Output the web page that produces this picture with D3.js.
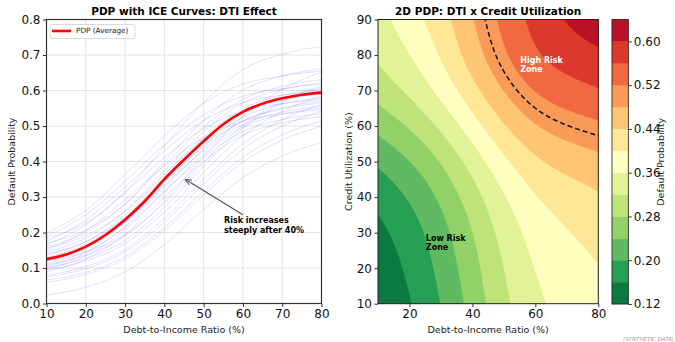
<!DOCTYPE html>
<html>
<head>
<meta charset="utf-8">
<script src="https://cdn.jsdelivr.net/npm/d3@7"></script>
<style>
  body { margin: 0; background: #fff; }
  svg { display: block; font-family: "DejaVu Sans", sans-serif; }
</style>
</head>
<body>
<div id="chart"></div>
<script>
/**
 * CONSTANTS
 * */
const width = 675, height = 342;

/**
 * DATA
 * */
// left panel: x positions of the ICE samples
const dtiTicks = [10, 20, 30, 40, 50, 60, 70, 80];
const probTicks = [0, 0.1, 0.2, 0.3, 0.4, 0.5, 0.6, 0.7, 0.8];

// PDP (average) curve
const pdpX = [10, 15, 20, 25, 30, 35, 40, 45, 50, 55, 60, 65, 70, 75, 80];
const pdpY = [0.125, 0.138, 0.160, 0.193, 0.236, 0.288, 0.350, 0.405, 0.457, 0.505, 0.540, 0.563, 0.578, 0.588, 0.594];

// ICE curves, one row per observation, values at dtiTicks
const iceCurves = [
  [0.198, 0.262, 0.363, 0.472, 0.564, 0.618, 0.641, 0.655],
  [0.190, 0.250, 0.344, 0.447, 0.532, 0.584, 0.605, 0.618],
  [0.184, 0.227, 0.314, 0.443, 0.567, 0.659, 0.702, 0.724],
  [0.175, 0.235, 0.328, 0.430, 0.515, 0.566, 0.587, 0.600],
  [0.170, 0.207, 0.280, 0.391, 0.497, 0.575, 0.612, 0.630],
  [0.165, 0.222, 0.313, 0.411, 0.493, 0.542, 0.563, 0.575],
  [0.160, 0.200, 0.280, 0.400, 0.516, 0.601, 0.641, 0.661],
  [0.156, 0.191, 0.260, 0.364, 0.464, 0.538, 0.573, 0.590],
  [0.150, 0.205, 0.293, 0.388, 0.467, 0.514, 0.534, 0.546],
  [0.146, 0.184, 0.260, 0.374, 0.484, 0.565, 0.603, 0.622],
  [0.140, 0.174, 0.242, 0.344, 0.442, 0.514, 0.548, 0.565],
  [0.137, 0.174, 0.249, 0.362, 0.469, 0.549, 0.586, 0.605],
  [0.130, 0.167, 0.242, 0.355, 0.462, 0.542, 0.579, 0.598],
  [0.126, 0.160, 0.229, 0.332, 0.431, 0.504, 0.539, 0.556],
  [0.120, 0.145, 0.194, 0.283, 0.397, 0.500, 0.570, 0.614],
  [0.118, 0.155, 0.229, 0.340, 0.446, 0.525, 0.562, 0.580],
  [0.112, 0.146, 0.214, 0.315, 0.412, 0.484, 0.518, 0.535],
  [0.109, 0.136, 0.190, 0.288, 0.413, 0.527, 0.603, 0.652],
  [0.105, 0.142, 0.217, 0.328, 0.435, 0.514, 0.551, 0.570],
  [0.102, 0.127, 0.178, 0.270, 0.386, 0.493, 0.564, 0.610],
  [0.098, 0.134, 0.207, 0.315, 0.420, 0.497, 0.533, 0.551],
  [0.095, 0.120, 0.169, 0.257, 0.369, 0.472, 0.541, 0.585],
  [0.090, 0.125, 0.195, 0.299, 0.400, 0.474, 0.509, 0.526],
  [0.080, 0.104, 0.152, 0.239, 0.349, 0.450, 0.518, 0.561],
  [0.075, 0.098, 0.145, 0.229, 0.337, 0.435, 0.500, 0.542],
  [0.066, 0.088, 0.133, 0.214, 0.317, 0.412, 0.475, 0.515],
  [0.060, 0.082, 0.126, 0.205, 0.306, 0.399, 0.460, 0.500],
  [0.024, 0.046, 0.089, 0.166, 0.265, 0.355, 0.415, 0.454]
];

// right panel: 2D PDP grid, rows = credit utilization, cols = DTI
const gridDti = [10, 20, 30, 40, 50, 60, 70, 80];
const gridCu = [10, 20, 30, 40, 50, 60, 70, 80, 90];
const gridPd = [
  [0.125, 0.155, 0.199, 0.255, 0.312, 0.354, 0.374, 0.390],
  [0.135, 0.165, 0.209, 0.265, 0.322, 0.364, 0.384, 0.397],
  [0.148, 0.178, 0.222, 0.278, 0.335, 0.377, 0.397, 0.413],
  [0.170, 0.200, 0.244, 0.300, 0.357, 0.399, 0.419, 0.433],
  [0.205, 0.235, 0.279, 0.335, 0.392, 0.434, 0.454, 0.467],
  [0.252, 0.282, 0.326, 0.382, 0.439, 0.481, 0.500, 0.512],
  [0.298, 0.328, 0.372, 0.428, 0.485, 0.527, 0.546, 0.559],
  [0.328, 0.358, 0.404, 0.462, 0.519, 0.561, 0.580, 0.593],
  [0.345, 0.382, 0.421, 0.478, 0.533, 0.573, 0.604, 0.625]
];
const levels = [0.12, 0.16, 0.20, 0.24, 0.28, 0.32, 0.36, 0.40, 0.44, 0.48, 0.52, 0.56, 0.60, 0.64];
const cbarTicks = [0.12, 0.20, 0.28, 0.36, 0.44, 0.52, 0.60];
const rightXTicks = [20, 40, 60, 80];
const rightYTicks = [10, 20, 30, 40, 50, 60, 70, 80, 90];

// RdYlGn colorbrewer stops (matplotlib), reversed for RdYlGn_r
const rdylgn = ["#a50026", "#d73027", "#f46d43", "#fdae61", "#fee08b", "#ffffbf",
  "#d9ef8b", "#a6d96a", "#66bd63", "#1a9850", "#006837"];
const cmap = d3.piecewise(d3.interpolateRgb, rdylgn.slice().reverse());

/**
 * SVG
 * */
const svg = d3.select("#chart").append("svg")
  .attr("width", width)
  .attr("height", height);
const defs = svg.append("defs");

function styleAxis(g) {
  g.select(".domain").remove();
  g.selectAll(".tick line").attr("stroke", "#333");
  g.selectAll(".tick text").attr("font-size", 12).attr("fill", "#111")
    .attr("font-family", "DejaVu Sans, sans-serif");
}

/**
 * LEFT PANEL: PDP + ICE
 * */
const L = { left: 46.5, right: 321.5, top: 19.5, bottom: 303.5 };
const xL = d3.scaleLinear().domain([10, 80]).range([L.left, L.right]);
const yL = d3.scaleLinear().domain([0, 0.8]).range([L.bottom, L.top]);

// grid
svg.append("g").selectAll("line").data(dtiTicks).join("line")
  .attr("x1", d => xL(d)).attr("x2", d => xL(d))
  .attr("y1", L.top).attr("y2", L.bottom)
  .attr("stroke", "#e3e3e3").attr("stroke-width", 1);
svg.append("g").selectAll("line").data(probTicks).join("line")
  .attr("x1", L.left).attr("x2", L.right)
  .attr("y1", d => yL(d)).attr("y2", d => yL(d))
  .attr("stroke", "#e3e3e3").attr("stroke-width", 1);

const iceLine = d3.line()
  .x((d, i) => xL(dtiTicks[i]))
  .y(d => yL(d))
  .curve(d3.curveMonotoneX);

svg.append("g").selectAll("path.ice").data(iceCurves).join("path")
  .attr("class", "ice")
  .attr("d", iceLine)
  .attr("fill", "none")
  .attr("stroke", "blue")
  .attr("stroke-opacity", 0.12)
  .attr("stroke-width", 1);

const pdpLine = d3.line()
  .x((d, i) => xL(pdpX[i]))
  .y(d => yL(d))
  .curve(d3.curveMonotoneX);

svg.append("path")
  .datum(pdpY)
  .attr("d", pdpLine)
  .attr("fill", "none")
  .attr("stroke", "red")
  .attr("stroke-width", 2.6);

// annotation arrow
defs.append("marker")
  .attr("id", "arrowhead")
  .attr("viewBox", "0 0 10 10")
  .attr("refX", 9).attr("refY", 5)
  .attr("markerWidth", 6).attr("markerHeight", 6)
  .attr("orient", "auto")
  .append("path")
  .attr("d", "M0,1 L9,5 L0,9")
  .attr("fill", "none")
  .attr("stroke", "#555")
  .attr("stroke-width", 1.3);

svg.append("line")
  .attr("x1", xL(60)).attr("y1", yL(0.25))
  .attr("x2", xL(45.3)).attr("y2", yL(0.35))
  .attr("stroke", "#555")
  .attr("stroke-width", 1.2)
  .attr("marker-end", "url(#arrowhead)");

svg.append("text")
  .attr("x", xL(55.2)).attr("y", yL(0.22) - 4.5)
  .attr("font-size", 8).attr("font-weight", "bold")
  .selectAll("tspan").data(["Risk increases", "steeply after 40%"]).join("tspan")
  .attr("x", xL(55.2))
  .attr("dy", (d, i) => i === 0 ? 0 : 9.4)
  .attr("dominant-baseline", "middle")
  .text(d => d);

// frame + axes
svg.append("rect")
  .attr("x", L.left).attr("y", L.top)
  .attr("width", L.right - L.left).attr("height", L.bottom - L.top)
  .attr("fill", "none").attr("stroke", "#333").attr("stroke-width", 1.2);

svg.append("g")
  .attr("transform", `translate(0,${L.bottom})`)
  .call(d3.axisBottom(xL).tickValues(dtiTicks).tickSize(3.5).tickPadding(2.5).tickFormat(d3.format("d")))
  .call(styleAxis);
svg.append("g")
  .attr("transform", `translate(${L.left},0)`)
  .call(d3.axisLeft(yL).tickValues(probTicks).tickSize(3.5).tickPadding(2.5).tickFormat(d3.format(".1f")))
  .call(styleAxis);

// legend
svg.append("rect")
  .attr("x", 50).attr("y", 24.5).attr("width", 85).attr("height", 14)
  .attr("rx", 2).attr("fill", "white").attr("stroke", "#d0d0d0").attr("stroke-width", 0.8);
svg.append("line")
  .attr("x1", 52).attr("x2", 71).attr("y1", 31).attr("y2", 31)
  .attr("stroke", "red").attr("stroke-width", 2.6);
svg.append("text")
  .attr("x", 76).attr("y", 31).attr("dominant-baseline", "middle")
  .attr("font-size", 7.3).attr("fill", "#222")
  .text("PDP (Average)");

// labels
svg.append("text")
  .attr("x", (L.left + L.right) / 2).attr("y", 15)
  .attr("text-anchor", "middle").attr("font-size", 10.5).attr("font-weight", "bold")
  .text("PDP with ICE Curves: DTI Effect");
svg.append("text")
  .attr("x", (L.left + L.right) / 2).attr("y", 333)
  .attr("text-anchor", "middle").attr("font-size", 9.5).attr("fill", "#222")
  .text("Debt-to-Income Ratio (%)");
svg.append("text")
  .attr("transform", `translate(15,${(L.top + L.bottom) / 2}) rotate(-90)`)
  .attr("text-anchor", "middle").attr("font-size", 9.5).attr("fill", "#222")
  .text("Default Probability");

/**
 * RIGHT PANEL: 2D PDP contour
 * */
const R = { left: 378, right: 598.3, top: 19.5, bottom: 303.7 };
const xR = d3.scaleLinear().domain([10, 80]).range([R.left, R.right]);
const yR = d3.scaleLinear().domain([10, 90]).range([R.bottom, R.top]);

// smooth the grid with d3's B-spline interpolators (rows, then columns)
const fnx = 71, fny = 81; // one sample per unit
const rowInterp = gridPd.map(r => d3.interpolateBasis(r));
const fine = new Array(fnx * fny);
for (let i = 0; i < fnx; i++) {
  const colInterp = d3.interpolateBasis(rowInterp.map(f => f(i / (fnx - 1))));
  for (let j = 0; j < fny; j++) {
    fine[j * fnx + i] = colInterp(j / (fny - 1));
  }
}

const gridPath = d3.geoPath(d3.geoTransform({
  point: function (x, y) {
    this.stream.point(xR(10 + x - 0.5), yR(10 + y - 0.5));
  }
}));

defs.append("clipPath").attr("id", "clipR")
  .append("rect")
  .attr("x", R.left).attr("y", R.top)
  .attr("width", R.right - R.left).attr("height", R.bottom - R.top);

const bands = d3.contours().size([fnx, fny]).thresholds(levels.slice(0, -1))(fine);
const nBands = levels.length - 1;

const contourG = svg.append("g").attr("clip-path", "url(#clipR)");
contourG.selectAll("path.band").data(bands).join("path")
  .attr("class", "band")
  .attr("d", gridPath)
  .attr("fill", (d, i) => cmap((i + 0.5) / nBands))
  .attr("stroke", (d, i) => cmap((i + 0.5) / nBands))
  .attr("stroke-width", 0.4);

const halfLine = d3.contours().size([fnx, fny]).thresholds([0.5])(fine);
contourG.selectAll("path.half").data(halfLine).join("path")
  .attr("class", "half")
  .attr("d", gridPath)
  .attr("fill", "none")
  .attr("stroke", "#111")
  .attr("stroke-width", 1.5)
  .attr("stroke-dasharray", "5,3");

svg.append("text")
  .attr("x", xR(55.2)).attr("y", yR(77.2) - 4.7)
  .attr("font-size", 8).attr("font-weight", "bold").attr("fill", "white")
  .selectAll("tspan").data(["High Risk", "Zone"]).join("tspan")
  .attr("x", xR(55.2))
  .attr("dy", (d, i) => i === 0 ? 0 : 9.6)
  .attr("dominant-baseline", "middle")
  .text(d => d);

svg.append("text")
  .attr("x", xR(25.2)).attr("y", yR(27.1) - 4.7)
  .attr("font-size", 8).attr("font-weight", "bold").attr("fill", "black")
  .selectAll("tspan").data(["Low Risk", "Zone"]).join("tspan")
  .attr("x", xR(25.2))
  .attr("dy", (d, i) => i === 0 ? 0 : 9.6)
  .attr("dominant-baseline", "middle")
  .text(d => d);

svg.append("rect")
  .attr("x", R.left).attr("y", R.top)
  .attr("width", R.right - R.left).attr("height", R.bottom - R.top)
  .attr("fill", "none").attr("stroke", "#222").attr("stroke-width", 1);

svg.append("g")
  .attr("transform", `translate(0,${R.bottom})`)
  .call(d3.axisBottom(xR).tickValues(rightXTicks).tickSize(3.5).tickPadding(2.5).tickFormat(d3.format("d")))
  .call(styleAxis);
svg.append("g")
  .attr("transform", `translate(${R.left},0)`)
  .call(d3.axisLeft(yR).tickValues(rightYTicks).tickSize(3.5).tickPadding(2.5).tickFormat(d3.format("d")))
  .call(styleAxis);

svg.append("text")
  .attr("x", (R.left + R.right) / 2).attr("y", 15)
  .attr("text-anchor", "middle").attr("font-size", 10.5).attr("font-weight", "bold")
  .text("2D PDP: DTI x Credit Utilization");
svg.append("text")
  .attr("x", (R.left + R.right) / 2).attr("y", 333)
  .attr("text-anchor", "middle").attr("font-size", 9.5).attr("fill", "#222")
  .text("Debt-to-Income Ratio (%)");
svg.append("text")
  .attr("transform", `translate(352,${(R.top + R.bottom) / 2}) rotate(-90)`)
  .attr("text-anchor", "middle").attr("font-size", 9.5).attr("fill", "#222")
  .text("Credit Utilization (%)");

/**
 * COLORBAR
 * */
const C = { left: 612, right: 628.3, top: 19.5, bottom: 304 };
const yC = d3.scaleLinear().domain([levels[0], levels[levels.length - 1]]).range([C.bottom, C.top]);

svg.append("g").selectAll("rect.cb").data(d3.pairs(levels)).join("rect")
  .attr("class", "cb")
  .attr("x", C.left).attr("width", C.right - C.left)
  .attr("y", d => yC(d[1])).attr("height", d => yC(d[0]) - yC(d[1]))
  .attr("fill", (d, i) => cmap((i + 0.5) / nBands))
  .attr("stroke", (d, i) => cmap((i + 0.5) / nBands))
  .attr("stroke-width", 0.3);

svg.append("rect")
  .attr("x", C.left).attr("y", C.top)
  .attr("width", C.right - C.left).attr("height", C.bottom - C.top)
  .attr("fill", "none").attr("stroke", "#222").attr("stroke-width", 0.8);

svg.append("g")
  .attr("transform", `translate(${C.right},0)`)
  .call(d3.axisRight(yC).tickValues(cbarTicks).tickSize(3.5).tickPadding(2).tickFormat(d3.format(".2f")))
  .call(styleAxis);

svg.append("text")
  .attr("transform", `translate(664,${(C.top + C.bottom) / 2}) rotate(-90)`)
  .attr("text-anchor", "middle").attr("font-size", 9.5).attr("fill", "#222")
  .text("Default Probability");

svg.append("text")
  .attr("x", 674).attr("y", 341)
  .attr("text-anchor", "end").attr("font-size", 5.5).attr("font-style", "italic")
  .attr("fill", "#999")
  .text("(SYNTHETIC DATA)");
</script>
</body>
</html>
